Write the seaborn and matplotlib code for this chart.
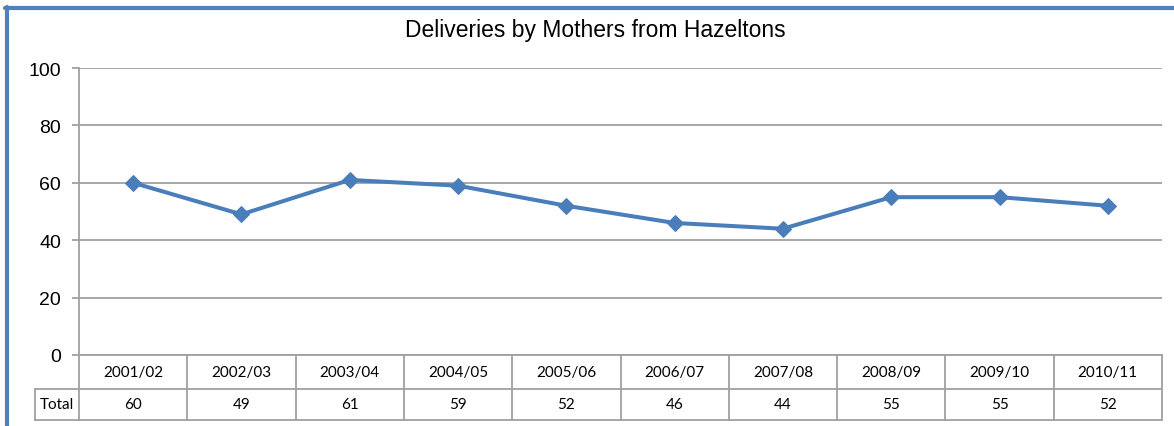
import matplotlib
matplotlib.use("Agg")
import matplotlib.pyplot as plt
import seaborn as sns
import pandas as pd
from matplotlib.lines import Line2D

years = ["2001/02", "2002/03", "2003/04", "2004/05", "2005/06",
         "2006/07", "2007/08", "2008/09", "2009/10", "2010/11"]
totals = [60, 49, 61, 59, 52, 46, 44, 55, 55, 52]
row_label = "Total"
title = "Deliveries by Mothers from Hazeltons"
yticks = [0, 20, 40, 60, 80, 100]

W, H = 1174, 427
BLUE = "#4a7ebb"
GRID = "#a0a0a0"


def main():
    sns.set_style("white")
    plt.rcParams["font.family"] = ["Liberation Sans", "DejaVu Sans"]

    fig = plt.figure(figsize=(W / 100, H / 100), dpi=100)
    left, right, top, bottom = 79, 1162, 69, 356
    ax = fig.add_axes([left / W, (H - bottom) / H, (right - left) / W, (bottom - top) / H])

    df = pd.DataFrame({"pos": range(len(years)), "total": totals})
    sns.lineplot(data=df, x="pos", y="total", ax=ax, color=BLUE, linewidth=2.9,
                 marker="D", markersize=8.5, markeredgecolor=BLUE, zorder=3)

    ax.set_xlim(-0.5, len(years) - 0.5)
    ax.set_ylim(0, 100)
    ax.set_yticks(yticks)
    ax.set_yticklabels([str(t) for t in yticks], fontsize=14, color="black")
    ax.set_xticks([])
    ax.set_xlabel("")
    ax.set_ylabel("")
    ax.yaxis.grid(True, color=GRID, linewidth=1.3)
    ax.tick_params(axis="y", length=5, width=1.3, color=GRID, left=True, pad=8)
    for s in ["top", "right"]:
        ax.spines[s].set_visible(False)
    ax.spines["left"].set_color(GRID)
    ax.spines["left"].set_linewidth(1.3)
    ax.spines["bottom"].set_color(GRID)
    ax.spines["bottom"].set_linewidth(1.3)

    # data table below the axis
    ph = bottom - top
    r1 = -34 / ph
    r2 = -65 / ph
    label_w = 44 / ((right - left) / len(years))
    trans = ax.get_xaxis_transform()
    x0 = -0.5
    x1 = len(years) - 0.5
    kw = dict(transform=trans, color=GRID, linewidth=1.3, clip_on=False)
    ax.add_line(Line2D([x0 - label_w, x1], [r1, r1], **kw))
    ax.add_line(Line2D([x0 - label_w, x1], [r2, r2], **kw))
    ax.add_line(Line2D([x0 - label_w, x0 - label_w], [r1, r2], **kw))
    for i in range(len(years) + 1):
        ax.add_line(Line2D([x0 + i, x0 + i], [0, r2], **kw))
    tfont = ["Lato", "DejaVu Sans"]
    for i, (yr, v) in enumerate(zip(years, totals)):
        ax.text(i, r1 / 2, yr, transform=trans, ha="center", va="center",
                fontsize=11, family=tfont, color="black")
        ax.text(i, (r1 + r2) / 2, str(v), transform=trans, ha="center", va="center",
                fontsize=11, family=tfont, color="black")
    ax.text(x0 - label_w / 2, (r1 + r2) / 2, row_label, transform=trans,
            ha="center", va="center", fontsize=11, family=tfont, color="black")

    fig.text(595 / W, 1 - 31 / H, title, ha="center", va="center", fontsize=16.5,
             color="black")

    # blue chart-area border (top and left edges)
    fig.add_artist(Line2D([5 / W, 1], [1 - 9 / H, 1 - 9 / H], transform=fig.transFigure,
                          color="#4f81bd", linewidth=3))
    fig.add_artist(Line2D([7 / W, 7 / W], [1 - 8 / H, 0], transform=fig.transFigure,
                          color="#4f81bd", linewidth=3))

    fig.savefig("out.png", dpi=100)


if __name__ == "__main__":
    main()
